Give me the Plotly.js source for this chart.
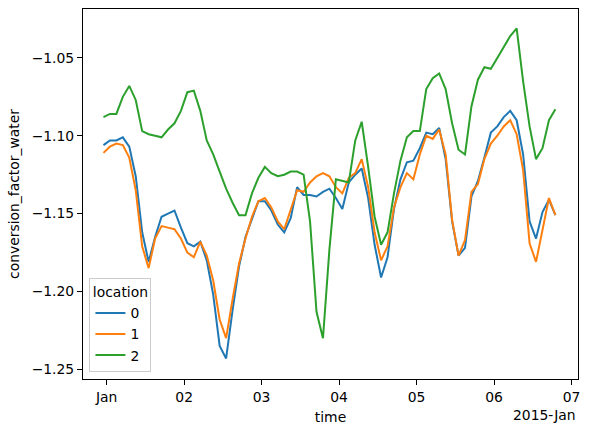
<!DOCTYPE html>
<html>
<head>
<meta charset="utf-8">
<script src="https://cdn.plot.ly/plotly-3.0.1.min.js"></script>
<style>html,body{margin:0;padding:0;background:#fff;}#chart{width:592px;height:432px;}</style>
</head>
<body>
<div id="chart"></div>
<script>
// time coordinate: 2-hourly samples starting 2014-12-31 23:00 (71 samples)
const startTime = Date.UTC(2014, 11, 31, 23, 0);
const stepHours = 2;
const nSamples = 71;
const time = [];
for (let k = 0; k < nSamples; k++) {
  time.push(new Date(startTime + k * stepHours * 3600000).toISOString().slice(0, 16).replace('T', ' '));
}

const locations = ['0', '1', '2'];

const loc0 = [
  -1.106, -1.103, -1.103, -1.101, -1.107, -1.126, -1.162, -1.181, -1.165, -1.152,
  -1.150, -1.148, -1.159, -1.169, -1.171, -1.168, -1.180, -1.202, -1.235, -1.243,
  -1.212, -1.184, -1.165, -1.153, -1.142, -1.142, -1.148, -1.157, -1.162, -1.153,
  -1.133, -1.138, -1.138, -1.139, -1.136, -1.134, -1.140, -1.147, -1.130, -1.125,
  -1.121, -1.140, -1.170, -1.191, -1.178, -1.147, -1.128, -1.117, -1.116, -1.108,
  -1.098, -1.099, -1.095, -1.115, -1.155, -1.177, -1.172, -1.139, -1.129, -1.114,
  -1.098, -1.094, -1.088, -1.084, -1.090, -1.112, -1.155, -1.166, -1.149, -1.141,
  -1.151
];

const loc1 = [
  -1.111, -1.107, -1.105, -1.106, -1.114, -1.135, -1.171, -1.185, -1.166, -1.158,
  -1.159, -1.160, -1.166, -1.175, -1.178, -1.168, -1.177, -1.193, -1.218, -1.230,
  -1.205, -1.182, -1.166, -1.152, -1.142, -1.140, -1.146, -1.155, -1.160, -1.148,
  -1.135, -1.136, -1.130, -1.126, -1.124, -1.126, -1.133, -1.137, -1.127, -1.124,
  -1.115, -1.133, -1.162, -1.180, -1.171, -1.146, -1.133, -1.124, -1.128, -1.112,
  -1.100, -1.102, -1.096, -1.112, -1.154, -1.177, -1.167, -1.136, -1.131, -1.115,
  -1.105, -1.100, -1.094, -1.090, -1.099, -1.122, -1.169, -1.181, -1.160, -1.140,
  -1.151
];

const loc2 = [
  -1.088, -1.086, -1.086, -1.075, -1.068, -1.077, -1.097, -1.099, -1.100, -1.101,
  -1.096, -1.092, -1.084, -1.072, -1.071, -1.084, -1.103, -1.112, -1.123, -1.134,
  -1.143, -1.151, -1.151, -1.137, -1.127, -1.120, -1.124, -1.126, -1.125, -1.123,
  -1.123, -1.125, -1.155, -1.213, -1.230, -1.173, -1.128, -1.129, -1.130, -1.103,
  -1.091, -1.120, -1.152, -1.170, -1.162, -1.137, -1.116, -1.101, -1.097, -1.097,
  -1.070, -1.063, -1.060, -1.070, -1.092, -1.109, -1.112, -1.081, -1.064, -1.056,
  -1.057, -1.050, -1.043, -1.036, -1.031, -1.065, -1.094, -1.115, -1.108, -1.090,
  -1.083
];

const xTickVals = ['2015-01-01', '2015-01-02', '2015-01-03', '2015-01-04', '2015-01-05', '2015-01-06', '2015-01-07'];
const xTickText = ['Jan', '02', '03', '04', '05', '06', '07'];
const yTickVals = [-1.25, -1.20, -1.15, -1.10, -1.05];
const yTickText = ['\u22121.25', '\u22121.20', '\u22121.15', '\u22121.10', '\u22121.05'];

const colors = ['#1f77b4', '#ff7f0e', '#2ca02c'];
const series = [loc0, loc1, loc2];
const FONT = 'DejaVu Sans, Liberation Sans, sans-serif';
const FS = 13.9;

const traces = series.map((vals, i) => ({
  x: time,
  y: vals,
  type: 'scatter',
  mode: 'lines',
  name: locations[i],
  line: {color: colors[i], width: 2}
}));

const axisCommon = {
  showline: true, mirror: true, linecolor: '#000', linewidth: 1.1,
  ticks: 'outside', ticklen: 4.9, tickwidth: 1.1, tickcolor: '#000',
  showgrid: false, zeroline: false, automargin: false,
  tickfont: {family: FONT, size: FS, color: '#000'}
};

const layout = {
  width: 592, height: 432,
  margin: {l: 83, r: 14, t: 9, b: 53, pad: 0},
  paper_bgcolor: '#fff', plot_bgcolor: '#fff',
  font: {family: FONT, size: FS, color: '#000'},
  showlegend: true,
  xaxis: Object.assign({}, axisCommon, {
    type: 'date',
    range: ['2014-12-31 16:40', '2015-01-07 02:00'],
    tickmode: 'array', tickvals: xTickVals, ticktext: xTickText,
    title: {text: 'time', font: {family: FONT, size: FS, color: '#000'}, standoff: 8}
  }),
  yaxis: Object.assign({}, axisCommon, {
    range: [-1.2562, -1.0186],
    tickmode: 'array', tickvals: yTickVals, ticktext: yTickText,
    title: {text: 'conversion_factor_water', font: {family: FONT, size: FS, color: '#000'}, standoff: 8}
  }),
  legend: {
    x: 0.013, y: 0.018, xanchor: 'left', yanchor: 'bottom',
    bgcolor: 'rgba(255,255,255,0.8)', bordercolor: '#cccccc', borderwidth: 1,
    font: {family: FONT, size: FS, color: '#000'},
    title: {text: 'location', side: 'top center', font: {family: FONT, size: FS, color: '#000'}},
    itemwidth: 30
  },
  annotations: [{
    text: '2015-Jan', xref: 'paper', yref: 'paper', x: 1, y: -0.097,
    xanchor: 'right', yanchor: 'middle', showarrow: false,
    font: {family: FONT, size: FS, color: '#000'}
  }]
};

Plotly.newPlot('chart', traces, layout, {staticPlot: true, displayModeBar: false});
</script>
</body>
</html>
